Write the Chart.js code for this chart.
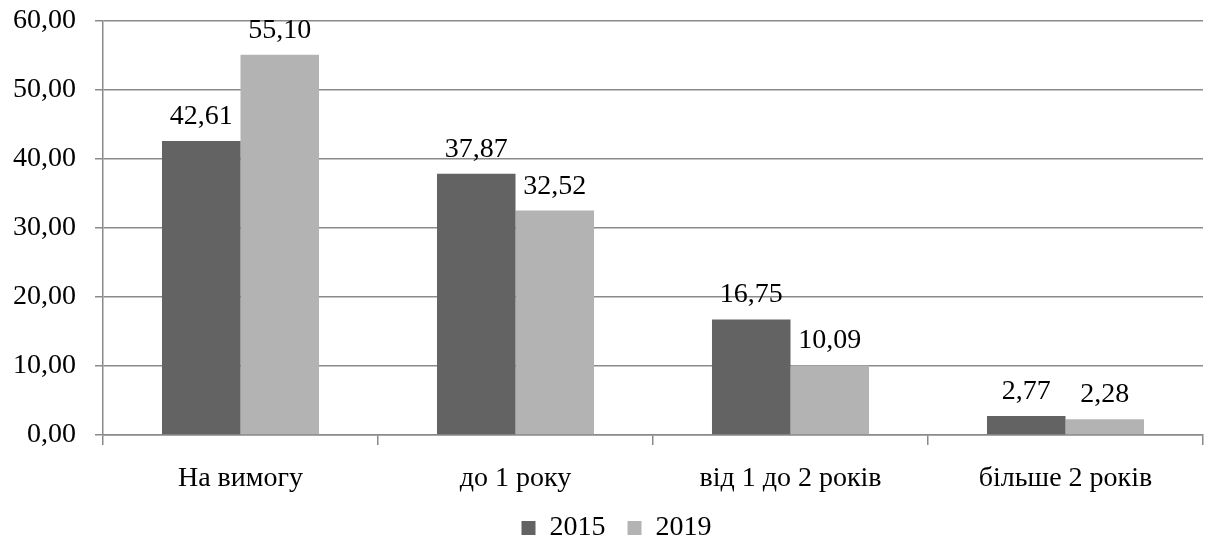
<!DOCTYPE html>
<html>
<head>
<meta charset="utf-8">
<script src="https://cdn.jsdelivr.net/npm/chart.js@4"></script>
<style>
  html, body { margin: 0; padding: 0; background: #fff; }
  #wrap { width: 1206px; height: 540px; }
</style>
</head>
<body>
<div id="wrap"><canvas id="deposits"></canvas></div>
<script>
const categories = ["На вимогу", "до 1 року", "від 1 до 2 років", "більше 2 років"];
const values2015 = [42.61, 37.87, 16.75, 2.77];
const values2019 = [55.10, 32.52, 10.09, 2.28];
const yTicks = [0, 10, 20, 30, 40, 50, 60];

const serif = "'Liberation Serif', 'Times New Roman', serif";
const gridColor = "#8a8a8a";

const fmt = (v) => v.toFixed(2).replace(".", ",");

// value labels above each bar + legend placement
const barLabels = {
  id: "barLabels",
  afterLayout(chart) {
    const lg = chart.legend;
    lg.left += 30;
    lg.top -= 13;
    lg.bottom = chart.height + 20;
    lg.height = lg.bottom - lg.top;
  },
  afterDatasetsDraw(chart) {
    const ctx = chart.ctx;
    ctx.save();
    ctx.font = "28px " + serif;
    ctx.fillStyle = "#000";
    ctx.textAlign = "center";
    ctx.textBaseline = "alphabetic";
    chart.data.datasets.forEach((ds, i) => {
      chart.getDatasetMeta(i).data.forEach((bar, j) => {
        ctx.fillText(fmt(ds.data[j]), bar.x, bar.y - 17);
      });
    });
    ctx.restore();
  },
};

Chart.defaults.font.family = serif;
Chart.defaults.font.size = 28;
Chart.defaults.color = "#000";

new Chart(document.getElementById("deposits"), {
  type: "bar",
  data: {
    labels: categories,
    datasets: [
      { label: "2015", data: values2015, backgroundColor: "#636363" },
      { label: "2019", data: values2019, backgroundColor: "#b3b3b3" },
    ],
  },
  options: {
    responsive: true,
    maintainAspectRatio: false,
    animation: false,
    layout: { padding: { left: 0, right: 3, top: 21, bottom: 0 } },
    datasets: {
      bar: { categoryPercentage: 0.571, barPercentage: 1.0 },
    },
    plugins: {
      legend: {
        position: "bottom",
        maxHeight: 35,
        labels: {
          boxWidth: 14,
          boxHeight: 14,
          padding: 22,
          font: { size: 28, family: serif },
          color: "#000",
        },
      },
      tooltip: { enabled: false },
    },
    scales: {
      x: {
        afterFit(scale) {
          scale.height = 70;
          scale.paddingLeft = 0;
          scale.paddingRight = 0;
        },
        grid: {
          offset: true,
          drawOnChartArea: false,
          color: gridColor,
          lineWidth: 1.5,
          tickLength: 10,
        },
        border: { color: gridColor, width: 1.5 },
        ticks: { padding: 17, font: { size: 28 }, color: "#000" },
      },
      y: {
        min: 0,
        max: 60,
        afterFit(scale) {
          scale.width = 103;
          scale.paddingTop = 0;
          scale.paddingBottom = 0;
        },
        afterBuildTicks(scale) {
          scale.ticks = yTicks.map((v) => ({ value: v }));
        },
        grid: { color: gridColor, lineWidth: 1.5, tickLength: 8 },
        border: { color: gridColor, width: 1.5 },
        ticks: {
          padding: 19,
          font: { size: 28 },
          color: "#000",
          callback: (v) => fmt(v),
        },
      },
    },
  },
  plugins: [barLabels],
});
</script>
</body>
</html>
